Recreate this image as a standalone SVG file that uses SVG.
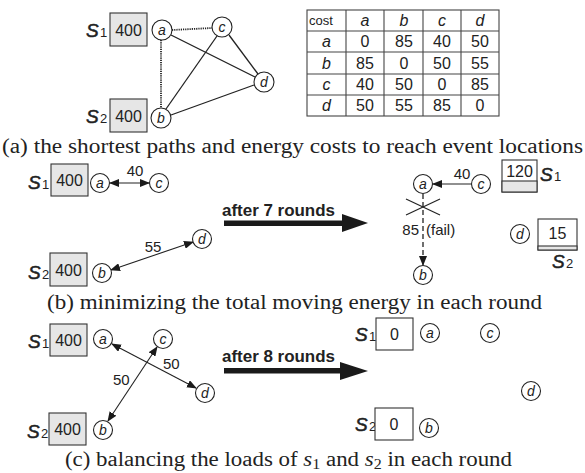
<svg xmlns="http://www.w3.org/2000/svg" width="585" height="473" viewBox="0 0 585 473">
<style>
.bg{fill:#fff}
.node circle{fill:#fff;stroke:#222;stroke-width:1.1}
.node text{font-family:"Liberation Sans",Arial,sans-serif;font-style:italic;font-size:14px;text-anchor:middle;fill:#222}
.box{fill:#e6e6e6;stroke:#333;stroke-width:1.1}
.wbox{fill:#fff;stroke:#333;stroke-width:1.1}
.num{font-family:"Liberation Sans",Arial,sans-serif;font-size:16px;text-anchor:middle;fill:#222}
.lab{font-family:"Liberation Sans",Arial,sans-serif;font-size:15px;fill:#222}
.S{font-family:"Liberation Sans",Arial,sans-serif;font-size:19px;font-style:italic;fill:#222;stroke:#222;stroke-width:0.5}
.sub{font-family:"Liberation Sans",Arial,sans-serif;font-size:13px;fill:#222}
.cap{font-family:"Liberation Serif","Times New Roman",serif;font-size:20px;fill:#222}
.bold{font-family:"Liberation Sans",Arial,sans-serif;font-size:16px;font-weight:bold;fill:#222}
.edge{stroke:#222;stroke-width:1.3;fill:none}
.dot{stroke:#222;stroke-width:1.8;fill:none;stroke-dasharray:1.2,1}
.arr{stroke:#222;stroke-width:1.1;fill:none;marker-end:url(#ah)}
.darr{stroke:#222;stroke-width:1.1;fill:none;marker-start:url(#ahs);marker-end:url(#ah)}
.tbl line,.tbl rect{stroke:#444;stroke-width:1.1;fill:none}
.tt{font-family:"Liberation Sans",Arial,sans-serif;font-size:16px;text-anchor:middle;fill:#222}
.ti{font-style:italic}
.thick{fill:#1a1a1a}
</style>
<defs>
<marker id="ah" markerWidth="10" markerHeight="8" refX="9" refY="4" orient="auto" markerUnits="userSpaceOnUse">
<path d="M0,0 L10,4 L0,8 Z" fill="#1a1a1a"/>
</marker>
<marker id="ahs" markerWidth="10" markerHeight="8" refX="1" refY="4" orient="auto" markerUnits="userSpaceOnUse">
<path d="M10,0 L0,4 L10,8 Z" fill="#1a1a1a"/>
</marker>
</defs>
<rect class="bg" width="585" height="473"/>

<!-- connectors -->
<g id="connectors">
<line class="dot" x1="172" y1="30" x2="212" y2="28"/>
<line class="dot" x1="161" y1="40" x2="161" y2="108"/>
<line class="edge" x1="171" y1="35" x2="255" y2="77"/>
<line class="edge" x1="217" y1="36" x2="166" y2="109"/>
<line class="edge" x1="229" y1="35" x2="258" y2="74"/>
<line class="edge" x1="171" y1="115" x2="254" y2="85"/>
<line class="darr" x1="110" y1="183" x2="149" y2="183"/>
<line class="darr" x1="111" y1="270" x2="193" y2="242"/>
<line class="arr" x1="471" y1="184" x2="433" y2="184"/>
<line x1="423" y1="194" x2="423" y2="258" stroke="#222" stroke-width="1.3" stroke-dasharray="5,3"/>
<line class="arr" x1="423" y1="256" x2="423" y2="265"/>
<line class="edge" x1="406" y1="199" x2="440" y2="215"/>
<line class="edge" x1="406" y1="215" x2="440" y2="199"/>
<line class="darr" x1="112" y1="344" x2="196" y2="388"/>
<line class="darr" x1="157" y1="347" x2="108" y2="421"/>
<rect class="thick" x="224" y="220.5" width="120" height="5.5"/>
<polygon class="thick" points="342,214 368,223 342,232"/>
<rect class="thick" x="224" y="368" width="118" height="5.5"/>
<polygon class="thick" points="340,362 368,371 340,380"/>
</g>

<g id="a-s1">
<text class="S" x="86" y="37">S</text><text class="sub" x="100" y="37">1</text>
<rect class="box" x="110" y="13" width="37" height="33"/>
<text class="num" x="128.5" y="35.5">400</text>
</g>
<g id="a-s2">
<text class="S" x="86" y="123">S</text><text class="sub" x="100" y="123">2</text>
<rect class="box" x="110" y="99" width="37" height="33"/>
<text class="num" x="128.5" y="121.5">400</text>
</g>
<g id="a-a" class="node"><circle cx="162" cy="30" r="10"/><text x="162" y="35">a</text></g>
<g id="a-c" class="node"><circle cx="222" cy="27" r="10"/><text x="222" y="32">c</text></g>
<g id="a-d" class="node"><circle cx="264" cy="82" r="10"/><text x="264" y="87">d</text></g>
<g id="a-b" class="node"><circle cx="161" cy="118" r="10"/><text x="161" y="123">b</text></g>

<g id="table" class="tbl">
<rect x="307" y="10" width="192" height="106"/>
<line x1="346" y1="10" x2="346" y2="116"/>
<line x1="384" y1="10" x2="384" y2="116"/>
<line x1="423" y1="10" x2="423" y2="116"/>
<line x1="461" y1="10" x2="461" y2="116"/>
<line x1="307" y1="31" x2="499" y2="31"/>
<line x1="307" y1="52" x2="499" y2="52"/>
<line x1="307" y1="74" x2="499" y2="74"/>
<line x1="307" y1="95" x2="499" y2="95"/>
<text x="309" y="25" font-family="Liberation Sans,Arial,sans-serif" font-size="13" fill="#222">cost</text>
<text class="tt ti" x="365" y="26">a</text><text class="tt ti" x="404" y="26">b</text><text class="tt ti" x="442" y="26">c</text><text class="tt ti" x="480" y="26">d</text>
<text class="tt ti" x="326.5" y="47">a</text><text class="tt" x="365" y="47">0</text><text class="tt" x="404" y="47">85</text><text class="tt" x="442" y="47">40</text><text class="tt" x="480" y="47">50</text>
<text class="tt ti" x="326.5" y="68.5">b</text><text class="tt" x="365" y="68.5">85</text><text class="tt" x="404" y="68.5">0</text><text class="tt" x="442" y="68.5">50</text><text class="tt" x="480" y="68.5">55</text>
<text class="tt ti" x="326.5" y="90">c</text><text class="tt" x="365" y="90">40</text><text class="tt" x="404" y="90">50</text><text class="tt" x="442" y="90">0</text><text class="tt" x="480" y="90">85</text>
<text class="tt ti" x="326.5" y="111">d</text><text class="tt" x="365" y="111">50</text><text class="tt" x="404" y="111">55</text><text class="tt" x="442" y="111">85</text><text class="tt" x="480" y="111">0</text>
</g>
<text class="cap" x="2" y="153" textLength="581" lengthAdjust="spacingAndGlyphs">(a) the shortest paths and energy costs to reach event locations</text>

<g id="b-s1">
<text class="S" x="28" y="189">S</text><text class="sub" x="42" y="189">1</text>
<rect class="box" x="51" y="164" width="37" height="32"/>
<text class="num" x="69.5" y="186">400</text>
</g>
<g id="b-s2">
<text class="S" x="28" y="279">S</text><text class="sub" x="42" y="279">2</text>
<rect class="box" x="50" y="253" width="37" height="33"/>
<text class="num" x="68.5" y="275.5">400</text>
</g>
<g id="b-a" class="node"><circle cx="100" cy="183" r="9.5"/><text x="100" y="188">a</text></g>
<g id="b-c" class="node"><circle cx="159" cy="183" r="9.5"/><text x="159" y="188">c</text></g>
<g id="b-d" class="node"><circle cx="202" cy="239" r="9.5"/><text x="202" y="244">d</text></g>
<g id="b-b" class="node"><circle cx="102" cy="273" r="9.5"/><text x="102" y="278">b</text></g>
<text class="lab" x="135" y="176" text-anchor="middle">40</text>
<text class="lab" x="153" y="252" text-anchor="middle">55</text>
<text class="bold" x="222" y="216" textLength="113" lengthAdjust="spacingAndGlyphs">after 7 rounds</text>

<g id="b2-a" class="node"><circle cx="423" cy="184" r="9.5"/><text x="423" y="189">a</text></g>
<g id="b2-c" class="node"><circle cx="481" cy="184" r="9.5"/><text x="481" y="189">c</text></g>
<g id="b2-d" class="node"><circle cx="520" cy="234" r="9.5"/><text x="520" y="239">d</text></g>
<g id="b2-b" class="node"><circle cx="423" cy="275" r="9.5"/><text x="423" y="280">b</text></g>
<text class="lab" x="462" y="179" text-anchor="middle">40</text>
<text class="lab" x="419" y="235" text-anchor="end">85</text>
<text class="lab" x="426" y="235">(fail)</text>
<g id="b2-s1">
<rect class="wbox" x="502" y="160" width="35" height="32"/>
<rect class="box" x="502" y="181" width="35" height="11"/>
<text class="num" x="519.5" y="177">120</text>
<text class="S" x="540" y="181">S</text><text class="sub" x="554" y="181">1</text>
</g>
<g id="b2-s2">
<rect class="wbox" x="538" y="219" width="39" height="31"/>
<rect class="box" x="538" y="246" width="39" height="4"/>
<text class="num" x="557.5" y="239">15</text>
<text class="S" x="552" y="268">S</text><text class="sub" x="566" y="268">2</text>
</g>
<text class="cap" x="47" y="309" textLength="495" lengthAdjust="spacingAndGlyphs">(b) minimizing the total moving energy in each round</text>

<g id="c-s1">
<text class="S" x="28" y="348">S</text><text class="sub" x="42" y="348">1</text>
<rect class="box" x="50" y="324" width="37" height="32"/>
<text class="num" x="68.5" y="346">400</text>
</g>
<g id="c-s2">
<text class="S" x="27" y="438">S</text><text class="sub" x="41" y="438">2</text>
<rect class="box" x="49" y="413" width="37" height="32"/>
<text class="num" x="67.5" y="435">400</text>
</g>
<g id="c-a" class="node"><circle cx="103" cy="339" r="9.5"/><text x="103" y="344">a</text></g>
<g id="c-c" class="node"><circle cx="163" cy="339" r="9.5"/><text x="163" y="344">c</text></g>
<g id="c-d" class="node"><circle cx="205" cy="393" r="9.5"/><text x="205" y="398">d</text></g>
<g id="c-b" class="node"><circle cx="103" cy="430" r="9.5"/><text x="103" y="435">b</text></g>
<text class="lab" x="163" y="369">50</text>
<text class="lab" x="113" y="385">50</text>
<text class="bold" x="222" y="362" textLength="113" lengthAdjust="spacingAndGlyphs">after 8 rounds</text>

<g id="c2-s1">
<text class="S" x="355" y="341">S</text><text class="sub" x="369" y="341">1</text>
<rect class="wbox" x="376" y="318" width="37" height="32"/>
<text class="num" x="394.5" y="340">0</text>
</g>
<g id="c2-s2">
<text class="S" x="355" y="431">S</text><text class="sub" x="369" y="431">2</text>
<rect class="wbox" x="375" y="408" width="38" height="32"/>
<text class="num" x="394" y="430">0</text>
</g>
<g id="c2-a" class="node"><circle cx="430" cy="333" r="9.5"/><text x="430" y="338">a</text></g>
<g id="c2-c" class="node"><circle cx="490" cy="333" r="9.5"/><text x="490" y="338">c</text></g>
<g id="c2-d" class="node"><circle cx="531" cy="391" r="9.5"/><text x="531" y="396">d</text></g>
<g id="c2-b" class="node"><circle cx="429" cy="428" r="9.5"/><text x="429" y="433">b</text></g>
<text class="cap" x="65" y="466" textLength="447" lengthAdjust="spacingAndGlyphs">(c) balancing the loads of <tspan font-style="italic">s</tspan><tspan font-size="14" dy="3">1</tspan><tspan dy="-3"> and </tspan><tspan font-style="italic">s</tspan><tspan font-size="14" dy="3">2</tspan><tspan dy="-3"> in each round</tspan></text>
</svg>
